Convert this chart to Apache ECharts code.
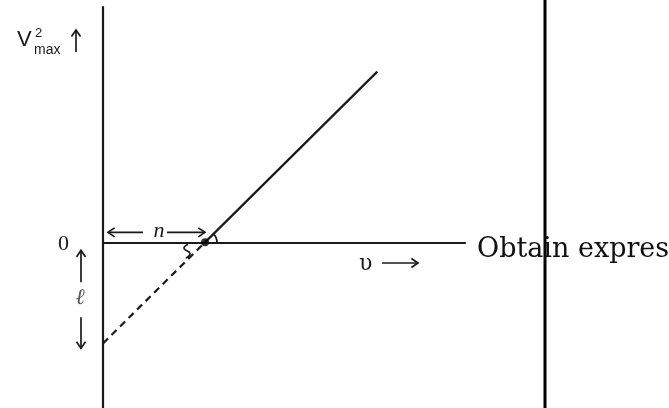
<!DOCTYPE html>
<html>
<head>
<meta charset="utf-8">
<script src="https://cdn.jsdelivr.net/npm/echarts@6/dist/echarts.min.js"></script>
<style>
  html, body { margin: 0; padding: 0; background: #fff; }
  #chart { width: 669px; height: 408px; }
</style>
</head>
<body>
<div id="chart"></div>
<script>
// Plot ranges (υ along x, V²max along y)
const xRange = [0, 3.55];
const yRange = [-1.64, 2.33];

// Straight-line graph: cuts the υ axis at n, extended back it meets the V²max axis at −ℓ
const xIntercept = 1;      // n
const yIntercept = -1;     // −ℓ
const solidLine = [[1, 0], [2.69, 1.69]];
const dashedLine = [[0, -1], [1, 0]];
const crossPoint = [[1, 0]];

// Texts
const yTitleMain = 'V';
const yTitleSup = '2';
const yTitleSub = 'max';
const xTitle = 'υ';
const originLabel = '0';
const nLabel = 'n';
const ellLabel = 'ℓ';
const sideText = 'Obtain expression';

const INK = '#1a1a1a';
const chart = echarts.init(document.getElementById('chart'), null, { renderer: 'canvas' });

chart.setOption({
  animation: false,
  backgroundColor: '#ffffff',
  grid: { left: 103, right: 204, top: 7, bottom: 0, containLabel: false },
  xAxis: {
    type: 'value', min: xRange[0], max: xRange[1],
    axisLine: { show: true, onZero: true, lineStyle: { color: INK, width: 2.2 } },
    axisTick: { show: false }, axisLabel: { show: false }, splitLine: { show: false }
  },
  yAxis: {
    type: 'value', min: yRange[0], max: yRange[1],
    axisLine: { show: true, onZero: false, lineStyle: { color: INK, width: 2.2 } },
    axisTick: { show: false }, axisLabel: { show: false }, splitLine: { show: false }
  },
  series: [
    { type: 'line', data: solidLine, symbol: 'none', lineStyle: { color: INK, width: 2.2 }, z: 3 },
    { type: 'line', data: dashedLine, symbol: 'none', lineStyle: { color: INK, width: 2.2, type: [7, 5] }, z: 3 },
    { type: 'scatter', data: crossPoint, symbol: 'circle', symbolSize: 8, itemStyle: { color: '#000' }, z: 5 }
  ]
});

function px(p) { return chart.convertToPixel({ gridIndex: 0 }, p); }

// open-headed arrow from (x1,y1) to (x2,y2)
function arrow(x1, y1, x2, y2) {
  const a = Math.atan2(y2 - y1, x2 - x1);
  const L = 8, W = 0.6;
  const h1 = [x2 - L * Math.cos(a - W), y2 - L * Math.sin(a - W)];
  const h2 = [x2 - L * Math.cos(a + W), y2 - L * Math.sin(a + W)];
  const st = { stroke: INK, lineWidth: 1.7, fill: null };
  return [
    { type: 'line', shape: { x1, y1, x2, y2 }, style: st, silent: true },
    { type: 'polyline', shape: { points: [h1, [x2, y2], h2] }, style: st, silent: true }
  ];
}

function drawAnnotations() {
  const O = px([0, 0]);
  const P = px([xIntercept, 0]);
  const Q = px([0, yIntercept]);
  const els = [];

  // divider on the right
  els.push({ type: 'line', shape: { x1: 545, y1: 0, x2: 545, y2: 408 }, style: { stroke: '#000', lineWidth: 3 }, z: 10 });

  // y-axis title V²max with arrow
  els.push({ type: 'text', x: 17, y: 40, style: { text: yTitleMain, fontFamily: 'Liberation Sans', fontSize: 22, fill: INK, verticalAlign: 'middle' } });
  els.push({ type: 'text', x: 35, y: 33, style: { text: yTitleSup, fontFamily: 'Liberation Sans', fontSize: 13, fill: INK, verticalAlign: 'middle' } });
  els.push({ type: 'text', x: 34, y: 50, style: { text: yTitleSub, fontFamily: 'Liberation Sans', fontSize: 14, fill: INK, verticalAlign: 'middle' } });
  els.push(...arrow(76, 52, 76, 30));

  // origin label
  els.push({ type: 'text', x: O[0] - 45, y: O[1] + 2, style: { text: originLabel, fontFamily: 'Liberation Serif', fontSize: 22, fill: INK, verticalAlign: 'middle' } });

  // n span above the υ axis
  const ny = O[1] - 10;
  els.push(...arrow(O[0] + 40, ny, O[0] + 5, ny));
  els.push(...arrow(P[0] - 38, ny, P[0], ny));
  els.push({ type: 'text', x: (O[0] + P[0]) / 2 + 5, y: ny - 1, style: { text: nLabel, fontFamily: 'Liberation Serif', fontStyle: 'italic', fontSize: 22, fill: INK, align: 'center', verticalAlign: 'middle' } });

  // ℓ span left of the V²max axis
  const lx = O[0] - 22;
  els.push(...arrow(lx, O[1] + 40, lx, O[1] + 8));
  els.push(...arrow(lx, Q[1] - 26, lx, Q[1] + 5));
  els.push({ type: 'text', x: lx - 1, y: (O[1] + Q[1]) / 2 + 5, style: { text: ellLabel, fontFamily: 'Liberation Serif', fontStyle: 'italic', fontSize: 22, fill: '#555', align: 'center', verticalAlign: 'middle' } });

  // angle marks at the crossing point
  els.push({ type: 'arc', shape: { cx: P[0], cy: P[1], r: 12, startAngle: -Math.PI / 4, endAngle: 0, clockwise: true }, style: { stroke: INK, lineWidth: 1.8, fill: null } });
  els.push({
    type: 'polyline',
    shape: { points: [[P[0] - 17, P[1] + 2], [P[0] - 21, P[1] + 6], [P[0] - 15, P[1] + 11], [P[0] - 19, P[1] + 16]], smooth: 0.4 },
    style: { stroke: INK, lineWidth: 1.7, fill: null }
  });

  // υ axis title
  els.push({ type: 'text', x: 359, y: 264, style: { text: xTitle, fontFamily: 'DejaVu Serif', fontSize: 22, fill: INK, verticalAlign: 'middle' } });
  els.push(...arrow(382, 263, 418, 263));

  // side text
  els.push({ type: 'text', x: 477, y: 250, z: 1, style: { text: sideText, fontFamily: 'DejaVu Serif', fontSize: 27, fill: '#111', verticalAlign: 'middle' } });

  chart.setOption({ graphic: { elements: els } });
}
drawAnnotations();
</script>
</body>
</html>
